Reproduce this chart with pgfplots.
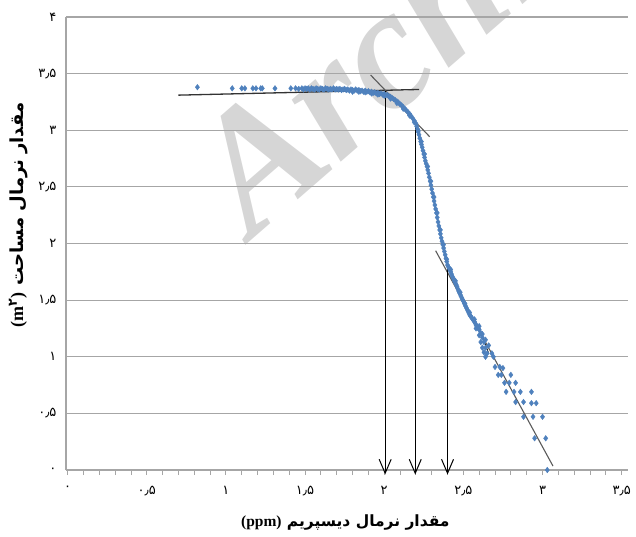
\documentclass[border=0pt]{standalone}
\usepackage{fontspec}
\setmainfont{Liberation Serif}
\newfontfamily\arabicfont[Script=Arabic]{DejaVu Sans}
\newfontfamily\wmfont{Liberation Serif}
\TeXXeTstate=1
\usepackage{pgfplots}
\pgfplotsset{compat=1.18}
\usetikzlibrary{arrows.meta}
\definecolor{ptblue}{RGB}{79,129,189}
\definecolor{gridgray}{RGB}{166,166,166}
\definecolor{fitgray}{RGB}{90,90,90}
\definecolor{wmgray}{RGB}{214,214,214}

\pgfplotstableread{
x y
0.82 3.38
1.04 3.37
1.10 3.37
1.12 3.37
1.17 3.37
1.19 3.37
1.22 3.37
1.23 3.37
1.31 3.37
1.41 3.37
1.44 3.37
1.46 3.365
1.48 3.37
1.49 3.36
1.50 3.37
1.51 3.365
1.52 3.37
1.53 3.36
1.54 3.37
1.55 3.365
1.56 3.36
1.57 3.37
1.58 3.365
1.59 3.36
1.60 3.37
1.61 3.365
1.62 3.36
1.63 3.37
1.64 3.365
1.65 3.36
1.66 3.365
1.67 3.36
1.68 3.37
1.69 3.36
1.70 3.365
1.71 3.36
1.72 3.365
1.73 3.355
1.74 3.36
1.75 3.365
1.76 3.355
1.77 3.36
1.78 3.35
1.79 3.36
1.80 3.355
1.81 3.35
1.82 3.36
1.83 3.35
1.84 3.355
1.85 3.345
1.86 3.35
1.87 3.34
1.88 3.35
1.89 3.34
1.90 3.345
1.91 3.335
1.92 3.34
1.93 3.33
1.94 3.335
1.95 3.325
1.96 3.33
1.97 3.32
1.98 3.325
1.99 3.315
2.00 3.32
2.01 3.31
2.02 3.31
2.03 3.30
2.04 3.295
2.05 3.285
2.06 3.275
2.07 3.265
2.08 3.255
2.09 3.245
2.10 3.23
2.11 3.22
2.12 3.205
2.13 3.19
2.14 3.175
2.15 3.16
2.16 3.145
2.17 3.125
2.18 3.105
2.19 3.085
2.20 3.06
2.21 3.01
2.22 2.96
2.23 2.90
2.24 2.85
2.25 2.79
2.26 2.73
2.27 2.68
2.28 2.62
2.29 2.55
2.30 2.48
2.31 2.41
2.32 2.34
2.33 2.27
2.34 2.19
2.35 2.12
2.36 2.05
2.37 1.99
2.38 1.93
2.39 1.87
2.40 1.81
2.41 1.78
2.42 1.75
2.43 1.71
2.44 1.68
2.45 1.65
2.46 1.62
2.47 1.58
2.48 1.55
2.49 1.52
2.50 1.49
2.51 1.46
2.52 1.43
2.53 1.40
2.54 1.37
2.55 1.35
2.56 1.33
2.57 1.31
2.58 1.28
2.59 1.26
2.60 1.24
2.61 1.21
2.62 1.17
2.63 1.13
2.64 1.08
2.65 1.03
2.205 3.035
2.215 2.985
2.225 2.93
2.235 2.875
2.245 2.82
2.255 2.76
2.265 2.705
2.275 2.65
2.285 2.585
2.295 2.515
2.305 2.445
2.315 2.375
2.325 2.305
2.335 2.23
2.345 2.155
2.355 2.085
2.365 2.02
2.375 1.96
2.385 1.90
2.395 1.84
2.405 1.795
2.415 1.765
2.425 1.73
2.435 1.695
2.445 1.665
2.455 1.635
2.465 1.60
2.475 1.565
2.485 1.535
2.495 1.505
2.505 1.475
2.515 1.445
2.525 1.415
2.535 1.385
2.545 1.36
2.555 1.34
2.565 1.32
2.575 1.295
2.585 1.27
2.595 1.25
1.80 3.34
1.84 3.34
1.88 3.335
1.92 3.325
1.96 3.315
2.00 3.305
2.04 3.28
2.08 3.24
2.12 3.19
2.16 3.13
2.19 3.07
2.215 3.00
2.235 2.90
2.255 2.79
2.275 2.68
2.295 2.55
2.315 2.41
2.335 2.27
2.355 2.12
2.375 1.99
2.395 1.86
2.42 1.77
2.45 1.67
2.48 1.57
2.51 1.47
2.54 1.39
2.57 1.33
2.60 1.27
2.62 1.20
2.64 1.15
2.66 1.10
2.58 1.25
2.60 1.19
2.61 1.13
2.62 1.08
2.63 1.04
2.64 1.00
2.68 1.03
2.69 1.00
2.70 0.91
2.73 0.91
2.72 0.84
2.75 0.90
2.76 0.77
2.74 0.84
2.79 0.77
2.80 0.84
2.83 0.77
2.77 0.69
2.82 0.69
2.86 0.69
2.83 0.60
2.88 0.60
2.93 0.69
2.93 0.59
2.96 0.59
2.88 0.47
2.94 0.47
3.00 0.47
2.95 0.28
3.02 0.28
3.03 0.00
}\dispdata

\begin{document}
\begin{tikzpicture}
% watermark (behind the chart)
\node[overlay, rotate=41, anchor=base west, text=wmgray, inner sep=0pt,
      font=\wmfont\bfseries\itshape\fontsize{172}{172}\selectfont] at (186pt,230pt) {Archive};
\begin{axis}[
  at={(0pt,0pt)}, anchor=south west,
  scale only axis, width=562pt, height=453pt,
  xmin=-0.01, xmax=3.54, ymin=0, ymax=4,
  clip=false,
  axis x line*=bottom, axis y line*=left,
  axis line style={gridgray, line width=1.2pt},
  xtick={0,0.5,1,1.5,2,2.5,3,3.5},
  minor xtick={0.1,0.2,0.3,0.4,0.6,0.7,0.8,0.9,1.1,1.2,1.3,1.4,1.6,1.7,1.8,1.9,2.1,2.2,2.3,2.4,2.6,2.7,2.8,2.9,3.1,3.2,3.3,3.4},
  xticklabels={۰,۰٫۵,۱,۱٫۵,۲,۲٫۵,۳,۳٫۵},
  ytick={0,0.5,1,1.5,2,2.5,3,3.5,4},
  yticklabels={۰,۰٫۵,۱,۱٫۵,۲,۲٫۵,۳,۳٫۵,۴},
  tick align=outside,
  major tick length=5pt, minor tick length=5pt,
  tick style={gridgray, line width=0.8pt},
  ytick style={draw=none},
  ymajorgrids,
  grid style={gridgray, line width=1.2pt},
  xticklabel style={font=\arabicfont\fontsize{13}{15}\selectfont, yshift=-8pt},
  yticklabel style={font=\arabicfont\fontsize{13}{15}\selectfont, xshift=-1pt},
  xlabel={\arabicfont\bfseries\beginR مقدار نرمال دیسپریم \beginL{\rmfamily\bfseries (ppm)}\endL\endR},
  ylabel={\arabicfont\bfseries\beginR مقدار نرمال مساحت \beginL{\rmfamily\bfseries (m\textsuperscript{\arabicfont\bfseries ۲})}\endL\endR},
  xlabel style={at={(axis description cs:0.497,-0.115)}, anchor=center, font=\fontsize{15.5}{18}\selectfont},
  ylabel style={at={(axis description cs:-0.085,0.563)}, anchor=center, font=\fontsize{18}{21}\selectfont},
]
% fitted straight lines
\addplot[black!80, line width=1.3pt] coordinates {(0.70,3.31) (2.22,3.36)};
\addplot[fitgray, line width=1.1pt] coordinates {(1.914,3.488) (2.287,2.943)};
\addplot[fitgray, line width=1.1pt] coordinates {(2.325,1.936) (3.066,0.035)};
% data points
\addplot[only marks, mark=diamond*, mark size=2.8pt, color=ptblue, mark options={draw=ptblue, fill=ptblue}] table[x=x, y=y] {\dispdata};
% dark curve along the steep part
\addplot[black, line width=0.8pt, smooth] coordinates {(2.196,3.08) (2.23,2.90) (2.28,2.62) (2.32,2.34) (2.36,2.05) (2.40,1.81) (2.44,1.68) (2.48,1.55) (2.54,1.37) (2.60,1.24) (2.66,1.03)};
% vertical arrows
\addplot[black, line width=0.9pt, -{Straight Barb[length=14pt, width=12pt, line width=1pt]}] coordinates {(2.006,3.35) (2.006,-0.04)};
\addplot[black, line width=0.9pt, -{Straight Barb[length=14pt, width=12pt, line width=1pt]}] coordinates {(2.196,3.08) (2.196,-0.04)};
\addplot[black, line width=0.9pt, -{Straight Barb[length=14pt, width=12pt, line width=1pt]}] coordinates {(2.40,1.80) (2.40,-0.04)};
\end{axis}
\pgfresetboundingbox
\useasboundingbox (-66pt,-66pt) rectangle (570pt,470pt);
\end{tikzpicture}
\end{document}
